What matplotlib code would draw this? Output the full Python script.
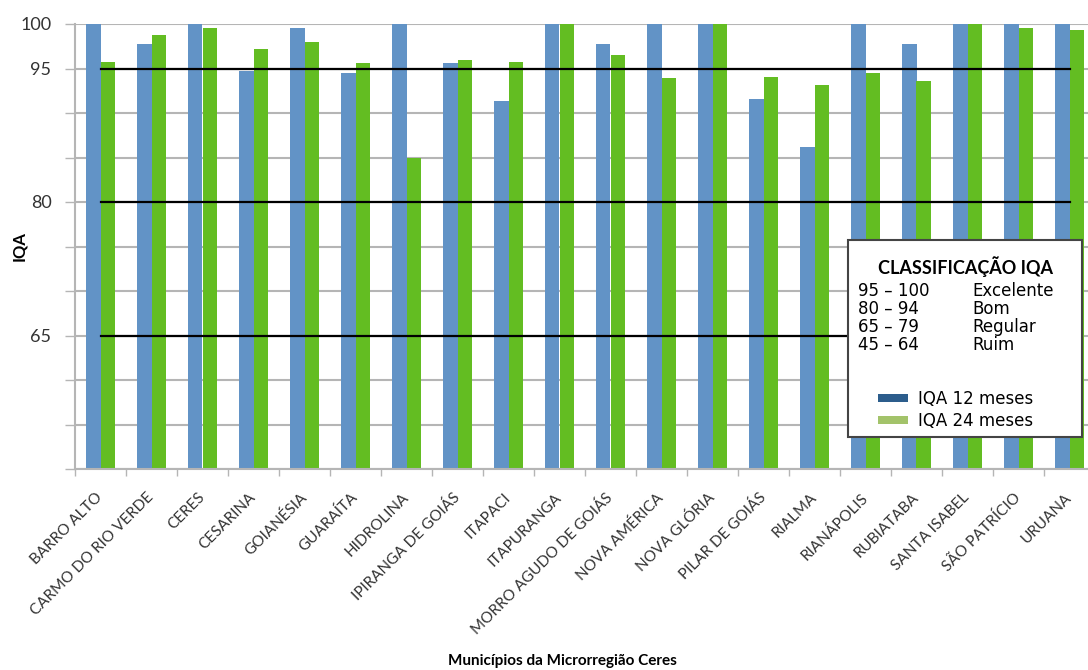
import matplotlib
matplotlib.use("Agg")
import matplotlib.pyplot as plt
from matplotlib.patches import Patch, Rectangle
import numpy as np

# --- data ---------------------------------------------------------------
municipios = [
    "BARRO ALTO", "CARMO DO RIO VERDE", "CERES", "CESARINA", "GOIANÉSIA",
    "GUARAÍTA", "HIDROLINA", "IPIRANGA DE GOIÁS", "ITAPACI", "ITAPURANGA",
    "MORRO AGUDO DE GOIÁS", "NOVA AMÉRICA", "NOVA GLÓRIA", "PILAR DE GOIÁS",
    "RIALMA", "RIANÁPOLIS", "RUBIATABA", "SANTA ISABEL", "SÃO PATRÍCIO",
    "URUANA",
]
iqa_12 = [100.0, 97.7, 100.0, 94.7, 99.6, 94.5, 100.0, 95.6, 91.4, 100.0,
          97.8, 100.0, 100.0, 91.6, 86.2, 100.0, 97.8, 100.0, 100.0, 100.0]
iqa_24 = [95.7, 98.8, 99.5, 97.2, 98.0, 95.6, 85.0, 96.0, 95.7, 100.0,
          96.5, 93.9, 100.0, 94.1, 93.1, 94.5, 93.6, 100.0, 99.5, 99.3]

limites = [95, 80, 65]
y_ticks = [50, 55, 60, 65, 70, 75, 80, 85, 90, 95, 100]
y_rotulos = {100: "100", 95: "95", 80: "80", 65: "65"}

faixas = ["95 – 100", "80 – 94", "65 – 79", "45 – 64"]
classes = ["Excelente", "Bom", "Regular", "Ruim"]
series = ["IQA 12 meses", "IQA 24 meses"]

# --- style --------------------------------------------------------------
AZUL = "#6293c6"
VERDE = "#63bd22"
AZUL_LEG = "#2c5d8c"
VERDE_LEG = "#a3c36a"
GRADE = "#b5b5b5"
TEXTO = "#333333"
plt.rcParams["font.family"] = ["Lato", "DejaVu Sans"]
CAIXA_FONTE = ["DejaVu Sans"]

W, H = 1088, 670
fig = plt.figure(figsize=(W / 100, H / 100), dpi=100)

def fx(px):
    return px / W

def fy(py):
    return 1 - py / H

# plot area runs past the right edge of the figure
ax = fig.add_axes([fx(75), fy(469), 1020 / W, (469 - 24) / H])

x = np.arange(len(municipios))
larg = 0.285
ax.bar(x - larg / 2, [v - 50 for v in iqa_12], bottom=50, width=larg,
       color=AZUL, linewidth=0, zorder=2)
ax.bar(x + larg / 2, [v - 50 for v in iqa_24], bottom=50, width=larg,
       color=VERDE, linewidth=0, zorder=2)

for lim in limites:
    ax.plot(x, [lim] * len(x), color="black", lw=1.6, zorder=3)

ax.set_xlim(-0.5, len(municipios) - 0.5)
ax.set_ylim(50, 100)

ax.set_yticks(y_ticks)
ax.set_yticklabels([y_rotulos.get(t, "") for t in y_ticks])
ax.yaxis.grid(True, color=GRADE, lw=1.5, zorder=0)
ax.set_axisbelow(True)
ax.tick_params(axis="y", length=7, width=1, color=GRADE, pad=10,
               labelsize=13, labelcolor=TEXTO)

ax.set_xticks(x)
ax.set_xticklabels(municipios, rotation=45, ha="right", va="center",
                   rotation_mode="anchor", fontsize=11, color=TEXTO)
ax.tick_params(axis="x", which="major", length=0, pad=19)
ax.set_xticks(np.arange(-0.5, len(municipios) + 0.5, 1), minor=True)
ax.tick_params(axis="x", which="minor", length=5, width=1, color=GRADE)

for s in ["top", "right"]:
    ax.spines[s].set_visible(False)
for s in ["left", "bottom"]:
    ax.spines[s].set_color(GRADE)
    ax.spines[s].set_linewidth(1.5)

fig.text(fx(19), fy(246), "IQA", rotation=90, ha="center", va="center",
         fontsize=12, fontweight="bold", color="black")
fig.text(fx(562), fy(661), "Municípios da Microrregião Ceres", ha="center",
         va="center", fontsize=11, fontweight="bold", color="black")

# classification box
caixa = Rectangle((fx(848), fy(437)), fx(1082) - fx(848), fy(240) - fy(437),
                  transform=fig.transFigure, facecolor="white",
                  edgecolor="#444444", lw=1.5, zorder=4)
fig.patches.append(caixa)

fig.text(fx(965), fy(267), "CLASSIFICAÇÃO IQA", ha="center", va="center",
         fontsize=13, fontweight="bold", color="black", zorder=6)
for i, (fa, cl) in enumerate(zip(faixas, classes)):
    yy = 291 + i * 18
    fig.text(fx(858), fy(yy), fa, ha="left", va="center", fontsize=12,
             family=CAIXA_FONTE, color="black", zorder=6)
    fig.text(fx(972), fy(yy), cl, ha="left", va="center", fontsize=12,
             family=CAIXA_FONTE, color="black", zorder=6)

handles = [Patch(facecolor=AZUL_LEG, edgecolor="none"),
           Patch(facecolor=VERDE_LEG, edgecolor="none")]
leg = fig.legend(handles, series, loc="upper left",
                 bbox_to_anchor=(fx(866), fy(378)), frameon=False,
                 prop={"family": CAIXA_FONTE, "size": 12},
                 handlelength=1.8, handleheight=0.4, handletextpad=0.6,
                 labelspacing=0.25, borderpad=0.2)
leg.set_zorder(6)

fig.savefig("out.png", dpi=100)
